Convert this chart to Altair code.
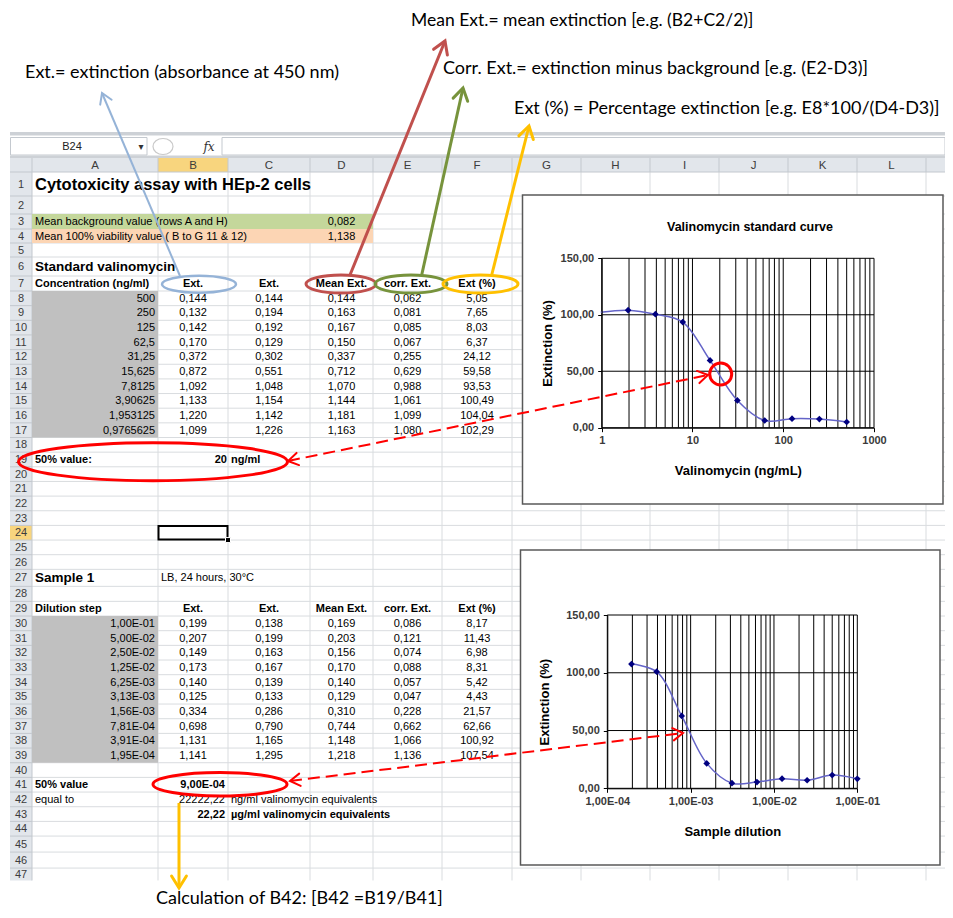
import math
import altair as alt
import pandas as pd

# ---------------- values read from the worksheet ----------------
std_conc = [500, 250, 125, 62.5, 31.25, 15.625, 7.8125, 3.90625, 1.953125, 0.9765625]
std_ext1 = [0.144, 0.132, 0.142, 0.170, 0.372, 0.872, 1.092, 1.133, 1.220, 1.099]
std_ext2 = [0.144, 0.194, 0.192, 0.129, 0.302, 0.551, 1.048, 1.154, 1.142, 1.226]
std_mean = [0.144, 0.163, 0.167, 0.150, 0.337, 0.712, 1.070, 1.144, 1.181, 1.163]
std_corr = [0.062, 0.081, 0.085, 0.067, 0.255, 0.629, 0.988, 1.061, 1.099, 1.080]
std_pct = [5.05, 7.65, 8.03, 6.37, 24.12, 59.58, 93.53, 100.49, 104.04, 102.29]

smp_dil = [1.00e-1, 5.00e-2, 2.50e-2, 1.25e-2, 6.25e-3, 3.13e-3, 1.56e-3, 7.81e-4, 3.91e-4, 1.95e-4]
smp_ext1 = [0.199, 0.207, 0.149, 0.173, 0.140, 0.125, 0.334, 0.698, 1.131, 1.141]
smp_ext2 = [0.138, 0.199, 0.163, 0.167, 0.139, 0.133, 0.286, 0.790, 1.165, 1.295]
smp_mean = [0.169, 0.203, 0.156, 0.170, 0.140, 0.129, 0.310, 0.744, 1.148, 1.218]
smp_corr = [0.086, 0.121, 0.074, 0.088, 0.057, 0.047, 0.228, 0.662, 1.066, 1.136]
smp_pct = [8.17, 11.43, 6.98, 8.31, 5.42, 4.43, 21.57, 62.66, 100.92, 107.54]

background_value = 0.082
viability_value = 1.138
std_half_value = 20
smp_half_value = 9.00e-4
equiv_ng = 22222.22
equiv_ug = 22.22

table_headers = ["Ext.", "Ext.", "Mean Ext.", "corr. Ext.", "Ext (%)"]
column_letters = ["A", "B", "C", "D", "E", "F", "G", "H", "I", "J", "K", "L"]

std_x_ticks = [1, 10, 100, 1000]
std_x_labels = ["1", "10", "100", "1000"]
smp_x_ticks = [1e-4, 1e-3, 1e-2, 1e-1]
smp_x_labels = ["1,00E-04", "1,00E-03", "1,00E-02", "1,00E-01"]
pct_ticks = [0, 50, 100, 150]
pct_labels = ["0,00", "50,00", "100,00", "150,00"]

notes = {
    "mean": "Mean Ext.= mean extinction [e.g. (B2+C2/2)]",
    "ext": "Ext.= extinction (absorbance at 450 nm)",
    "corr": "Corr. Ext.= extinction minus background [e.g. (E2-D3)]",
    "pct": "Ext (%) = Percentage extinction [e.g. E8*100/(D4-D3)]",
    "calc": "Calculation of B42: [B42 =B19/B41]",
}

# ---------------- layout ----------------
SHEET_FONT = "Liberation Sans"
NOTE_FONT = "Lato"
W, H = 937, 902
SX = alt.Scale(domain=[8, 945], range=[0, 937], nice=False, zero=False)
SY = alt.Scale(domain=[8, 910], range=[0, 902], nice=False, zero=False)

EDGES = [32, 158, 228, 310, 373, 442, 512, 581, 650, 719, 788, 857, 926, 995]
COL = {c: (EDGES[i], EDGES[i + 1]) for i, c in enumerate(column_letters + ["M"])}
ROW_H = {1: 24, 2: 18, 3: 15, 4: 14, 5: 14, 6: 19, 7: 15}
for r in range(8, 27):
    ROW_H[r] = 14.65
ROW_H[27] = 17
ROW_H[28] = 15
for r in range(29, 45):
    ROW_H[r] = 14.67
ROW_H[45] = 16
ROW_H[46] = 16
ROW_H[47] = 12.4
ROW_TOP = {}
_t = 172.0
for r in range(1, 48):
    ROW_TOP[r] = _t
    _t += ROW_H[r]
SHEET_BOTTOM = _t


def rbot(r):
    return ROW_TOP[r] + ROW_H[r]


def rm(r):
    return ROW_TOP[r] + ROW_H[r] / 2 + 0.5


def cl(c):
    return COL[c][0] + 3


def cr(c):
    return COL[c][1] - 3


def cm(c):
    return (COL[c][0] + COL[c][1]) / 2


def f3(v):
    return f"{v:.3f}".replace(".", ",")


def f2(v):
    return f"{v:.2f}".replace(".", ",")


def fsci(v):
    return f"{v:.2E}".replace(".", ",")


def fx(f):
    return alt.X(f"{f}:Q", scale=SX, axis=None)


def fy(f):
    return alt.Y(f"{f}:Q", scale=SY, axis=None)


def rect_layer(rows, fill, stroke=None, sw=0, fill_opacity=1):
    df = pd.DataFrame(rows, columns=["x", "y", "x2", "y2"])
    kw = dict(fill=fill, strokeWidth=sw, fillOpacity=fill_opacity)
    if stroke:
        kw["stroke"] = stroke
    return alt.Chart(df).mark_rect(**kw).encode(x=fx("x"), x2="x2:Q", y=fy("y"), y2="y2:Q")


def rule_layer(rows, color, width=1.0, dash=None, cap="butt"):
    df = pd.DataFrame(rows, columns=["x", "y", "x2", "y2"])
    kw = dict(color=color, strokeWidth=width, strokeCap=cap)
    if dash:
        kw["strokeDash"] = dash
    return alt.Chart(df).mark_rule(**kw).encode(x=fx("x"), y=fy("y"), x2="x2:Q", y2="y2:Q")


def text_layer(rows, align="left", size=11, weight="normal", color="#000000",
               font=SHEET_FONT, style="normal", angle=0):
    df = pd.DataFrame(rows, columns=["x", "y", "t"])
    return alt.Chart(df).mark_text(
        align=align, baseline="middle", fontSize=size, fontWeight=weight,
        color=color, font=font, fontStyle=style, angle=angle
    ).encode(x=fx("x"), y=fy("y"), text="t:N")


def symbol_layer(rows, shape, size, color, width, angle=0):
    df = pd.DataFrame(rows, columns=["x", "y"])
    return alt.Chart(df).mark_point(
        shape=shape, size=size, filled=False, color=color, strokeWidth=width,
        opacity=1, angle=angle, strokeJoin="miter", strokeCap="round"
    ).encode(x=fx("x"), y=fy("y"))


def ellipse_path(ratio):
    k = 0.5523
    r = ratio
    return (f"M 1 0 C 1 {k*r:.4f} {k:.4f} {r:.4f} 0 {r:.4f} "
            f"C {-k:.4f} {r:.4f} -1 {k*r:.4f} -1 0 "
            f"C -1 {-k*r:.4f} {-k:.4f} {-r:.4f} 0 {-r:.4f} "
            f"C {k:.4f} {-r:.4f} 1 {-k*r:.4f} 1 0 Z")


def ellipse(cx, cy, rx, ry, color, width):
    return symbol_layer([(cx, cy)], ellipse_path(ry / rx), (2 * rx) ** 2, color, width)


HEAD = "M -1 -0.62 L 0 0 L -1 0.62"


def arrow(x1, y1, x2, y2, color, width, head_len, dash=None, both=False):
    layers = [rule_layer([(x1, y1, x2, y2)], color, width, dash)]
    ang = math.degrees(math.atan2(y2 - y1, x2 - x1)) % 360
    layers.append(symbol_layer([(x2, y2)], HEAD, (2 * head_len) ** 2, color, width, ang))
    if both:
        ang2 = math.degrees(math.atan2(y1 - y2, x1 - x2)) % 360
        layers.append(symbol_layer([(x1, y1)], HEAD, (2 * head_len) ** 2, color, width, ang2))
    return layers


def label_expr(ticks, labels):
    parts = []
    for t, l in zip(ticks, labels):
        tol = abs(t) * 0.01 if t != 0 else 1e-9
        parts.append(f"abs(datum.value - {t!r}) <= {tol!r} ? '{l}'")
    return " : ".join(parts) + " : ''"


GRID = "#d9dcdf"
HDR = "#e2e6eb"
HDR_LINE = "#c3c8ce"
HILITE = "#f8d57e"

# ---------------- worksheet background ----------------
bg = []
# formula bar
bg.append(rect_layer([(10, 132, 945, 135.5)], "#cdd1d6"))
bg.append(rect_layer([(10, 155.5, 945, 158)], "#cdd1d6"))
bg.append(rect_layer([(10.5, 137.5, 147, 155), (222, 137.5, 945, 155)], "white", "#c4c9cf", 1))
bg.append(ellipse(163, 146.5, 10, 8, "#c9c9c9", 1.2))
# column header row and row-number column
bg.append(rect_layer([(10, 158, 945, 172), (10, 172, 32, SHEET_BOTTOM)], HDR))
bg.append(rect_layer([(COL["B"][0], 158, COL["B"][1], 172),
                      (10, ROW_TOP[24], 32, rbot(24))], HILITE))
# cell gridlines
grid_rows = [(e, 172, e, SHEET_BOTTOM) for e in EDGES[1:13]]
grid_rows += [(32, rbot(r), 945, rbot(r)) for r in range(1, 47)]
bg.append(rule_layer(grid_rows, GRID, 1))
# header separators
sep_rows = [(e, 158, e, 172) for e in EDGES[:13]]
sep_rows += [(10, rbot(r), 32, rbot(r)) for r in range(1, 47)]
sep_rows += [(10, 172, 945, 172), (32, 172, 32, SHEET_BOTTOM)]
bg.append(rule_layer(sep_rows, HDR_LINE, 1))
# coloured cells
bg.append(rect_layer([(COL["A"][0], ROW_TOP[3], COL["D"][1], rbot(3))], "#c4d79b"))
bg.append(rect_layer([(COL["A"][0], ROW_TOP[4], COL["D"][1], rbot(4))], "#fcd5b4"))
bg.append(rect_layer([(COL["A"][0], ROW_TOP[8], COL["A"][1], rbot(17)),
                      (COL["A"][0], ROW_TOP[30], COL["A"][1], rbot(39))], "#c0c0c0"))
# selected cell B24
bg.append(rect_layer([(COL["B"][0] + 0.5, ROW_TOP[24] + 0.5, COL["B"][1] - 0.5, rbot(24) - 0.5)],
                     "white", "#000000", 2, 0))
bg.append(rect_layer([(COL["B"][1] - 2.5, rbot(24) - 2.5, COL["B"][1] + 2.5, rbot(24) + 2.5)],
                     "#000000", "white", 1))

# header texts
bg.append(text_layer([(cm(c), 165.5, c) for c in column_letters], "center", 11.5, color="#3c3c3c"))
bg.append(text_layer([(21, rm(r), str(r)) for r in range(1, 48)], "center", 11, color="#3c3c3c"))
bg.append(text_layer([(72, 146.5, "B24")], "center", 11, color="#222222"))
bg.append(text_layer([(141, 147, "\u25be")], "center", 10, color="#333333", font="DejaVu Sans"))
bg.append(text_layer([(209, 146.5, "fx")], "center", 12, color="#333333", font="DejaVu Serif", style="italic"))

# cell texts
reg_left = [
    (cl("A"), rm(3), "Mean background value (rows A and H)"),
    (cl("A"), rm(4), "Mean 100% viability value ( B to G 11 & 12)"),
    (cl("B"), rm(27), "LB, 24 hours, 30\u00b0C"),
    (cl("A"), rm(42), "equal to"),
    (cl("C"), rm(42), "ng/ml valinomycin equivalents"),
]
reg_center = [(cm("D"), rm(3), f3(background_value)), (cm("D"), rm(4), f3(viability_value))]
reg_right = [(cr("B"), rm(42), f2(equiv_ng))]
for i in range(10):
    r = 8 + i
    reg_right.append((cr("A"), rm(r), str(std_conc[i]).replace(".", ",")))
    for c, v in zip("BCDE", [std_ext1[i], std_ext2[i], std_mean[i], std_corr[i]]):
        reg_center.append((cm(c), rm(r), f3(v)))
    reg_center.append((cm("F"), rm(r), f2(std_pct[i])))
    r = 30 + i
    reg_right.append((cr("A"), rm(r), fsci(smp_dil[i])))
    for c, v in zip("BCDE", [smp_ext1[i], smp_ext2[i], smp_mean[i], smp_corr[i]]):
        reg_center.append((cm(c), rm(r), f3(v)))
    reg_center.append((cm("F"), rm(r), f2(smp_pct[i])))

bold_left = [
    (cl("A"), rm(7), "Concentration (ng/ml)"),
    (cl("A"), rm(19), "50% value:"),
    (cl("C"), rm(19), "ng/ml"),
    (cl("A"), rm(29), "Dilution step"),
    (cl("A"), rm(41), "50% value"),
    (cl("C"), rm(43), "\u00b5g/ml valinomycin equivalents"),
]
bold_center = [(cm(c), rm(r), h) for r in (7, 29) for c, h in zip("BCDEF", table_headers)]
bold_right = [
    (cr("B") + 2, rm(19), str(std_half_value)),
    (cr("B"), rm(41), fsci(smp_half_value)),
    (cr("B"), rm(43), f2(equiv_ug)),
]
bg.append(text_layer(reg_left, "left", 11))
bg.append(text_layer(reg_center, "center", 11))
bg.append(text_layer(reg_right, "right", 11))
bg.append(text_layer(bold_left, "left", 11, "bold"))
bg.append(text_layer(bold_center, "center", 11, "bold"))
bg.append(text_layer(bold_right, "right", 11, "bold"))
bg.append(text_layer([(cl("A"), rm(1), "Cytotoxicity assay with HEp-2 cells")], "left", 16.5, "bold"))
bg.append(text_layer([(cl("A"), rm(6), "Standard valinomycin"),
                      (cl("A"), rm(27), "Sample 1")], "left", 13.5, "bold"))

# chart frames
bg.append(rect_layer([(522.5, 195, 943, 504), (520.5, 550, 940, 865)], "white", "#595959", 1.5))
bg.append(text_layer([(750, 227, "Valinomycin standard curve")], "center", 12.5, "bold"))

background_layer = alt.layer(*bg)

# ---------------- embedded Excel charts ----------------
LINE_COLOR = "#6464c8"
MARK_COLOR = "#000080"


def excel_chart(xs, ys, x_dom, x_px, y_px, x_ticks, x_labels, x_title, grid_x, point_filter,
                y_title_pad, x_title_pad):
    sx = alt.Scale(type="log", domain=x_dom, range=[x_px[0] - 8, x_px[1] - 8], nice=False)
    sy = alt.Scale(domain=[0, 150], range=[y_px[0] - 8, y_px[1] - 8], nice=False, zero=False)
    ax = alt.Axis(orient="bottom", offset=(y_px[0] - 8) - H, values=x_ticks,
                  labelExpr=label_expr(x_ticks, x_labels), grid=False,
                  domainColor="#000000", domainWidth=1, tickColor="#000000", tickSize=4,
                  labelFont=SHEET_FONT, labelFontSize=11, labelFontWeight="bold",
                  labelColor="#3a3a3a", labelPadding=3, labelFlush=False, labelOverlap=False,
                  title=x_title, titleFont=SHEET_FONT, titleFontSize=13, titleFontWeight="bold",
                  titleColor="#000000", titlePadding=x_title_pad, zindex=1)
    ay = alt.Axis(orient="left", offset=-(x_px[0] - 8), values=pct_ticks,
                  labelExpr=label_expr(pct_ticks, pct_labels), grid=False,
                  domainColor="#000000", domainWidth=1, tickColor="#000000", tickSize=4,
                  labelFont=SHEET_FONT, labelFontSize=11, labelFontWeight="bold",
                  labelColor="#3a3a3a", labelPadding=4, labelOverlap=False,
                  title="Extinction (%)", titleFont=SHEET_FONT, titleFontSize=13,
                  titleFontWeight="bold", titleColor="#000000", titlePadding=y_title_pad, zindex=1)
    X = lambda f: alt.X(f"{f}:Q", scale=sx, axis=ax)
    Y = lambda f: alt.Y(f"{f}:Q", scale=sy, axis=ay)
    gv = pd.DataFrame({"xv": grid_x, "yv": [0] * len(grid_x), "yv2": [150] * len(grid_x)})
    gh = pd.DataFrame({"yv": pct_ticks, "xv": [x_dom[0]] * 4, "xv2": [x_dom[1]] * 4})
    d = pd.DataFrame({"xv": xs, "yv": ys})
    vgrid = alt.Chart(gv).mark_rule(color="#000000", strokeWidth=1).encode(x=X("xv"), y=Y("yv"), y2="yv2:Q")
    hgrid = alt.Chart(gh).mark_rule(color="#000000", strokeWidth=1).encode(x=X("xv"), x2="xv2:Q", y=Y("yv"))
    line = alt.Chart(d).mark_line(color=LINE_COLOR, strokeWidth=1.5, interpolate="catmull-rom").encode(
        x=X("xv"), y=Y("yv"), order="xv:Q")
    pts = alt.Chart(d).transform_filter(point_filter).mark_point(
        shape="diamond", filled=True, color=MARK_COLOR, size=45, opacity=1).encode(x=X("xv"), y=Y("yv"))
    return alt.layer(vgrid, hgrid, line, pts)


grid1 = [m * 10 ** e for e in range(0, 3) for m in range(1, 10)] + [1000]
grid2 = [m * 10.0 ** e for e in (-4, -3, -2) for m in range(1, 10)] + [0.1]

chart1 = excel_chart(std_conc, std_pct, [1, 1000], (601.7, 874), (427.7, 258.3),
                     std_x_ticks, std_x_labels, "Valinomycin (ng/mL)", grid1, "datum.xv >= 1", 6, 19)
chart2 = excel_chart(smp_dil, smp_pct, [1e-4, 1e-1], (607.3, 857.3), (788.3, 615),
                     smp_x_ticks, smp_x_labels, "Sample dilution", grid2, "datum.xv >= 0.0001", 14, 19)

# ---------------- annotations ----------------
ov = []
ov.append(text_layer([(411, 20.5, notes["mean"])], "left", 17.5, font=NOTE_FONT))
ov.append(text_layer([(25, 73, notes["ext"]), (443, 69, notes["corr"]),
                      (514, 109, notes["pct"]), (156, 899, notes["calc"])],
                     "left", 18, font=NOTE_FONT))
ov.append(ellipse(199, 284.3, 37, 8.5, "#95b3d7", 2.5))
ov.append(ellipse(341, 284, 35, 9, "#c0504d", 3))
ov.append(ellipse(411, 284, 36, 9, "#77933c", 3))
ov.append(ellipse(480.5, 284, 37.5, 9, "#ffc000", 3))
ov.append(ellipse(153, 461.7, 134.5, 19, "#ff0000", 3))
ov.append(ellipse(220, 784.3, 67, 11.7, "#ff0000", 3))
ov.append(ellipse(720.7, 374, 11, 11, "#ff0000", 3))
ov += arrow(180, 276, 102, 93, "#95b3d7", 2, 10)
ov += arrow(350, 275, 445, 41, "#c0504d", 3, 12)
ov += arrow(421.7, 275, 463, 88, "#77933c", 3, 12)
ov += arrow(491.7, 275, 529, 126, "#ffc000", 3, 12)
ov += arrow(179, 803, 179, 888, "#ffc000", 3, 12)
ov += arrow(288, 461, 708, 375, "#ff0000", 2, 10, dash=[12, 6], both=True)
ov += arrow(290, 781, 683, 733, "#ff0000", 2, 10, dash=[12, 6], both=True)
overlay_layer = alt.layer(*ov)

chart = alt.layer(background_layer, chart1, chart2, overlay_layer).resolve_scale(
    x="independent", y="independent"
).properties(
    width=W, height=H, padding=0, autosize=alt.AutoSizeParams(type="none"), background="white"
).configure_view(strokeWidth=0)

chart.save("out.html", embed_options={"renderer": "svg", "actions": False})
